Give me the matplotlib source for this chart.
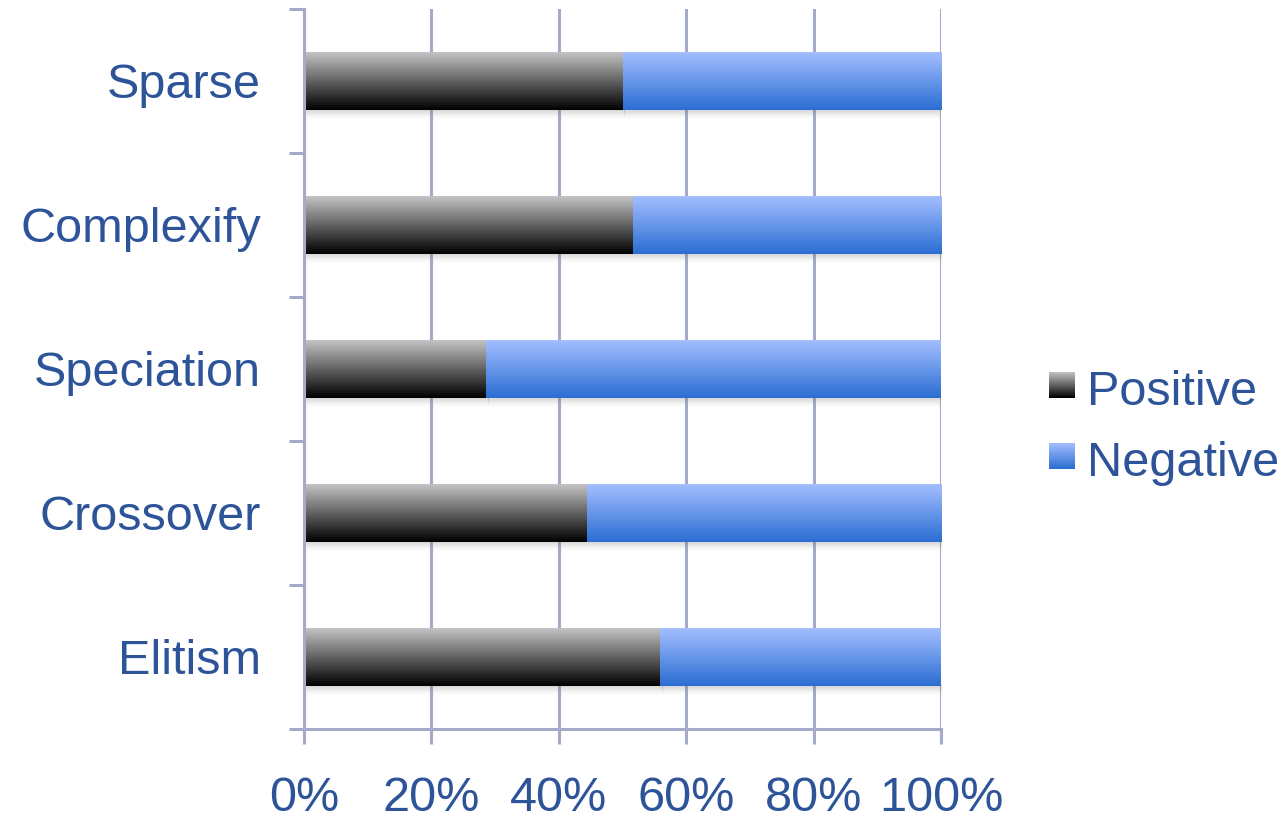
import numpy as np
import matplotlib
matplotlib.use("Agg")
import matplotlib.pyplot as plt
from matplotlib.colors import LinearSegmentedColormap

# Share of positive / negative outcomes per feature (percent)
categories = ["Sparse", "Complexify", "Speciation", "Crossover", "Elitism"]
positive = [50.0, 51.6, 28.6, 44.4, 55.9]
negative = [100 - p for p in positive]
series_names = ["Positive", "Negative"]
tick_values = [0, 20, 40, 60, 80, 100]
tick_labels = ["0%", "20%", "40%", "60%", "80%", "100%"]

TEXT = "#2D5499"
AXIS = "#A3ABC8"
FONT = "Liberation Sans"

# vertical gradients (top colour -> bottom colour)
grad_pos = LinearSegmentedColormap.from_list("pos", ["#000000", "#C4C4C4"])
grad_neg = LinearSegmentedColormap.from_list("neg", ["#2A6ED2", "#A4BEFF"])

fig = plt.figure(figsize=(12.85, 8.24), dpi=100)
ax = fig.add_axes([304 / 1285, 1 - 729 / 824, 637 / 1285, 720 / 824])

y = np.arange(len(categories))[::-1]
bar_h = 0.4
bars_pos = ax.barh(y, positive, height=bar_h, color="none", zorder=3)
bars_neg = ax.barh(y, negative, left=positive, height=bar_h, color="none", zorder=3)

ramp = np.linspace(0, 1, 256).reshape(-1, 1)


def fill_gradient(bars, cmap):
    for r in bars:
        x0, y0 = r.get_x(), r.get_y()
        w, h = r.get_width(), r.get_height()
        im = ax.imshow(ramp, cmap=cmap, aspect="auto", origin="lower",
                       extent=[x0, x0 + w, y0, y0 + h], zorder=3,
                       interpolation="bilinear")
        im.set_clip_path(r)


def drop_shadow(bars):
    # soft grey shadow under each bar
    depth = 0.07
    shade = np.zeros((64, 1, 4))
    shade[..., :3] = 0.45
    shade[:, 0, 3] = np.linspace(0.0, 0.45, 64) ** 1.4
    for r in bars:
        x0, y0 = r.get_x(), r.get_y()
        w = r.get_width()
        ax.imshow(shade, aspect="auto", origin="lower",
                  extent=[x0 + 0.3, x0 + w + 0.3, y0 - depth, y0],
                  zorder=2, interpolation="bilinear")


drop_shadow(list(bars_pos) + list(bars_neg))
fill_gradient(bars_pos, grad_pos)
fill_gradient(bars_neg, grad_neg)

ax.set_xlim(0, 100)
ax.set_ylim(-0.5, len(categories) - 0.5)

# x axis
ax.set_xticks(tick_values)
ax.set_xticklabels(tick_labels)
ax.xaxis.grid(True, color=AXIS, linewidth=2.2, zorder=1)
ax.set_axisbelow(True)

# y axis: ticks sit at category boundaries, labels centred on bars
ax.set_yticks(np.arange(-0.5, len(categories), 1.0))
ax.set_yticklabels([])
ax.set_yticks(y, labels=categories, minor=True)
ax.tick_params(axis="y", which="minor", length=0, pad=31)
ax.tick_params(axis="y", which="major", length=11, width=2.2, color=AXIS)
ax.tick_params(axis="x", length=11, width=2.2, color=AXIS, pad=23)

for lab in ax.get_xticklabels() + ax.get_yticklabels(minor=True):
    lab.set_fontfamily(FONT)
    lab.set_fontsize(35)
    lab.set_color(TEXT)
for lab in ax.get_yticklabels(minor=True):
    lab.set_verticalalignment("center_baseline")

for side in ("top", "right"):
    ax.spines[side].set_visible(False)
for side in ("left", "bottom"):
    ax.spines[side].set_color(AXIS)
    ax.spines[side].set_linewidth(2.2)
ax.spines["left"].set_zorder(4)

# legend with gradient swatches
legend_rows = [(series_names[0], grad_pos, 385), (series_names[1], grad_neg, 456)]
for name, cmap, yc in legend_rows:
    sw = fig.add_axes([1049 / 1285, 1 - (yc + 13) / 824, 26 / 1285, 26 / 824])
    sw.imshow(ramp, cmap=cmap, aspect="auto", origin="lower",
              extent=[0, 1, 0, 1], interpolation="bilinear")
    sw.set_axis_off()
    fig.text(1087 / 1285, 1 - (yc + 2) / 824, name, fontsize=35,
             family=FONT, color=TEXT, va="center_baseline", ha="left")

fig.savefig("out.png", dpi=100, facecolor="white")
